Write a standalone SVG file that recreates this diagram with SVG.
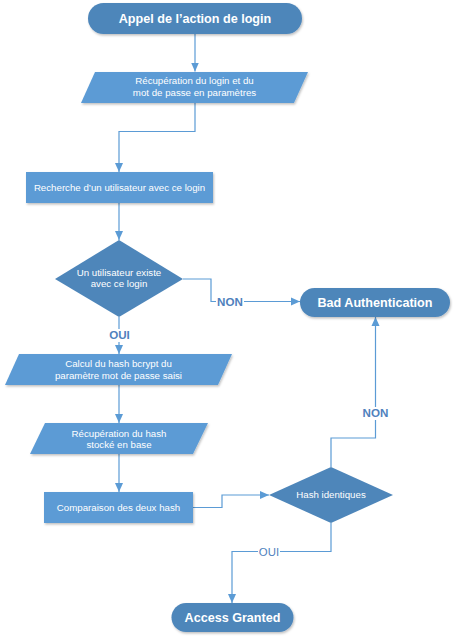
<svg xmlns="http://www.w3.org/2000/svg" width="455" height="640" viewBox="0 0 455 640">
<style>
.term{fill:#4E86BA;filter:url(#sh)}
.proc{fill:#5B9BD5;filter:url(#sh)}
.dec{fill:#4E86BA}
.tt{font-family:"Liberation Sans",Arial,sans-serif;font-weight:bold;font-size:12.6px;fill:#fff;text-anchor:middle}
.bt{font-family:"Liberation Sans",Arial,sans-serif;font-size:9.7px;fill:#fff;text-anchor:middle}
.ln{fill:none;stroke:#5B9BD5;stroke-width:1.2}
.lb{font-family:"Liberation Sans",Arial,sans-serif;font-weight:bold;font-size:11.6px;fill:#4F81BD;text-anchor:middle}
.lbr{font-family:"Liberation Sans",Arial,sans-serif;font-size:11.4px;fill:#4F81BD;text-anchor:middle}
.bg{fill:#fff}
</style>
<defs>
<filter id="sh" x="-10%" y="-20%" width="120%" height="150%">
<feDropShadow dx="1" dy="1.5" stdDeviation="0.8" flood-color="#000" flood-opacity="0.25"/>
</filter>
<marker id="ar" markerUnits="userSpaceOnUse" markerWidth="10" markerHeight="10" viewBox="0 0 10 10" refX="9" refY="5" orient="auto">
<path d="M0,1 L9,5 L0,9 Z" fill="#5B9BD5"/>
</marker>
</defs>
<rect width="455" height="640" fill="#fff"/>
<g id="connectors">
<path class="ln" d="M195,34 V71.5" marker-end="url(#ar)"/>
<path class="ln" d="M195,103 V131.5 H119 V172" marker-end="url(#ar)"/>
<path class="ln" d="M119,203 V240" marker-end="url(#ar)"/>
<path class="ln" d="M183,279 H211 V301.5 H300" marker-end="url(#ar)"/>
<path class="ln" d="M119,317 V354" marker-end="url(#ar)"/>
<path class="ln" d="M119,385 V423" marker-end="url(#ar)"/>
<path class="ln" d="M119,454 V492" marker-end="url(#ar)"/>
<path class="ln" d="M193,507.5 H222 V495 H269" marker-end="url(#ar)"/>
<path class="ln" d="M331,467 V438 H375.5 V317" marker-end="url(#ar)"/>
<path class="ln" d="M331,523 V551.5 H232 V603" marker-end="url(#ar)"/>
<rect class="bg" x="216" y="295" width="28" height="13"/>
<text class="lb" x="230" y="305.5">NON</text>
<rect class="bg" x="107" y="329" width="24" height="13"/>
<text class="lb" x="119.5" y="339">OUI</text>
<rect class="bg" x="361" y="407" width="29" height="13"/>
<text class="lb" x="375.5" y="417">NON</text>
<rect class="bg" x="258" y="545" width="22" height="13"/>
<text class="lbr" x="269" y="555.5">OUI</text>
</g>
<g id="start">
<rect class="term" x="88" y="3" width="214" height="31" rx="15.5"/>
<text class="tt" x="195" y="23">Appel de l’action de login</text>
</g>
<g id="recup-login">
<polygon class="proc" points="95,72 308,72 294,103 81,103"/>
<text class="bt" x="194.5" y="84">Récupération du login et du</text>
<text class="bt" x="194.5" y="96">mot de passe en paramètres</text>
</g>
<g id="recherche">
<rect class="proc" x="26" y="172" width="187" height="31"/>
<text class="bt" x="119.5" y="190.5">Recherche d’un utilisateur avec ce login</text>
</g>
<g id="existe">
<polygon class="dec" points="119,240 183,279 119,317 55,279"/>
<text class="bt" x="119" y="275.5">Un utilisateur existe</text>
<text class="bt" x="119" y="287">avec ce login</text>
</g>
<g id="bad-auth">
<rect class="term" x="300" y="288" width="150" height="29" rx="14.5"/>
<text class="tt" x="375" y="306.5">Bad Authentication</text>
</g>
<g id="calcul-hash">
<polygon class="proc" points="19,354 232,354 218,385 5,385"/>
<text class="bt" x="118.5" y="366.5">Calcul du hash bcrypt du</text>
<text class="bt" x="118.5" y="378.5">paramètre mot de passe saisi</text>
</g>
<g id="recup-hash">
<polygon class="proc" points="45,423 208,423 193,454 30,454"/>
<text class="bt" x="119" y="436.5">Récupération du hash</text>
<text class="bt" x="119" y="448">stocké en base</text>
</g>
<g id="comparaison">
<rect class="proc" x="44" y="492" width="149" height="31"/>
<text class="bt" x="118.5" y="511">Comparaison des deux hash</text>
</g>
<g id="identiques">
<polygon class="dec" points="331,467 393,495 331,523 269,495"/>
<text class="bt" x="331" y="498">Hash identiques</text>
</g>
<g id="granted">
<rect class="term" x="171.5" y="603" width="122" height="29" rx="14.5"/>
<text class="tt" x="232.5" y="621.5">Access Granted</text>
</g>
</svg>
